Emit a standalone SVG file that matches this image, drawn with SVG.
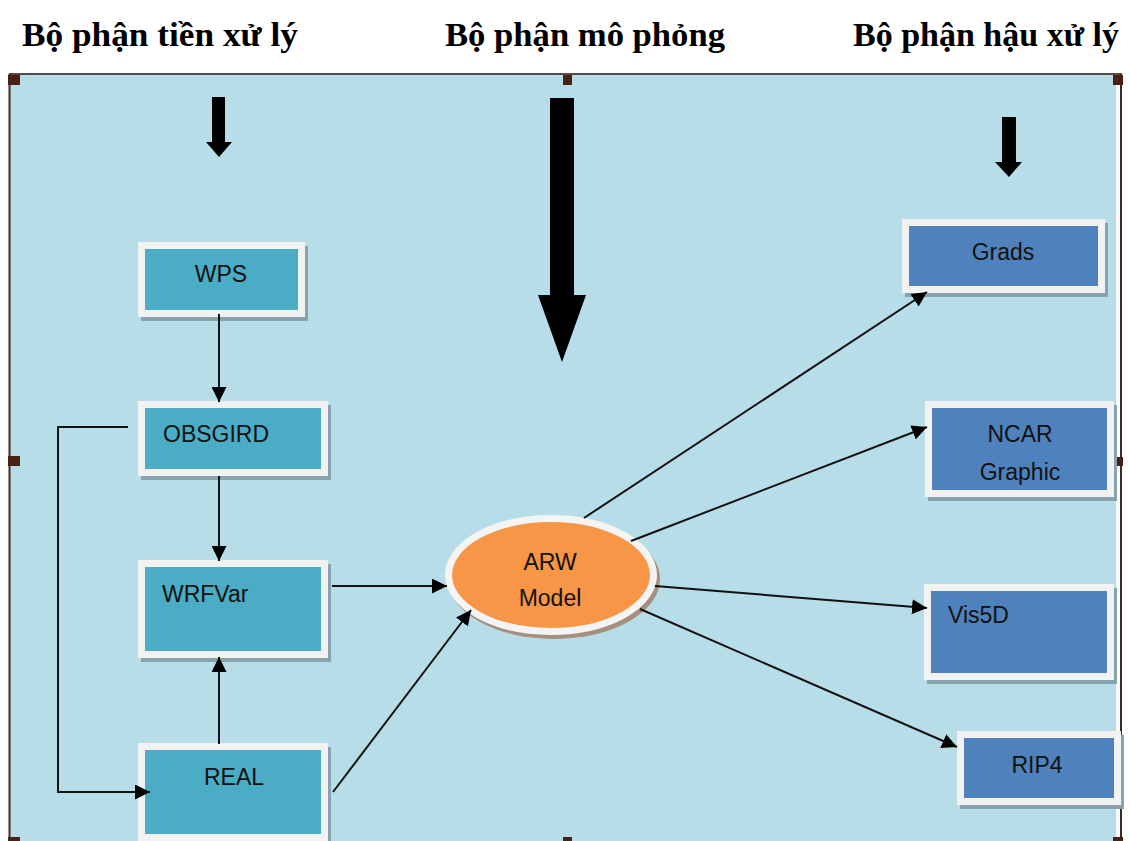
<svg xmlns="http://www.w3.org/2000/svg" width="1130" height="841" viewBox="0 0 1130 841">
<defs>
<style>
.hd{font-family:"Liberation Serif","Times New Roman",serif;font-weight:bold;font-size:34px;fill:#000}
.nt{font-family:"Liberation Sans",Arial,sans-serif;font-size:23px;fill:#111}
.box{stroke:#f2f2f2;stroke-width:7}
.teal{fill:#4bacc6}
.blue{fill:#4f81bd}
.shd{fill:#86a3ae}
.cn{stroke:#111;stroke-width:2;fill:none}
.hdl{fill:#4a1f14}
</style>
<marker id="ah" markerUnits="userSpaceOnUse" markerWidth="15" markerHeight="15" viewBox="0 0 15 15" refX="15" refY="7.5" orient="auto"><path d="M0,0 L15,7.5 L0,15 z" fill="#000"/></marker>
</defs>
<rect width="1130" height="841" fill="#fff"/>
<g id="frame">
<rect x="9" y="74" width="1107" height="767" fill="#b7dde8"/>
<rect x="1116" y="74" width="4" height="767" fill="#fbfbfb"/>
<line x1="9" y1="74" x2="1122" y2="74" stroke="#5a4a46" stroke-width="2"/>
<line x1="9.5" y1="74" x2="9.5" y2="841" stroke="#4a2a20" stroke-width="2"/>
<line x1="1121" y1="74" x2="1121" y2="841" stroke="#3a2a26" stroke-width="2"/>
<rect class="hdl" x="8" y="75" width="12" height="10"/>
<rect class="hdl" x="563" y="75" width="9" height="10"/>
<rect class="hdl" x="1113" y="75" width="10" height="10"/>
<rect class="hdl" x="8" y="456" width="12" height="10"/>
<rect class="hdl" x="1113" y="457" width="10" height="9"/>
<rect class="hdl" x="8" y="837" width="12" height="4"/>
<rect class="hdl" x="563" y="837" width="9" height="4"/>
<rect class="hdl" x="1113" y="837" width="10" height="4"/>
</g>
<g id="headings">
<text class="hd" x="22" y="46" textLength="276" lengthAdjust="spacingAndGlyphs">Bộ phận tiền xử lý</text>
<text class="hd" x="445" y="46" textLength="280" lengthAdjust="spacingAndGlyphs">Bộ phận mô phỏng</text>
<text class="hd" x="853" y="46" textLength="266" lengthAdjust="spacingAndGlyphs">Bộ phận hậu xử lý</text>
</g>
<g id="big-arrows" fill="#000">
<path d="M212,97 H225 V142 H232 L219,157 L206,142 H212 Z"/>
<path d="M550,98 H574 V295 H586 L562,362 L538,295 H550 Z"/>
<path d="M1002,117 H1016 V162 H1022 L1009,177 L995,162 H1002 Z"/>
</g>
<g id="node-wps">
<rect class="shd" x="141" y="246" width="167" height="75"/>
<rect class="box teal" x="141.5" y="245.5" width="160" height="68"/>
<text class="nt" x="221" y="282" text-anchor="middle">WPS</text>
</g>
<g id="node-obsgird">
<rect class="shd" x="141" y="405" width="190" height="75"/>
<rect class="box teal" x="141.5" y="404.5" width="183" height="68"/>
<text class="nt" x="163" y="442">OBSGIRD</text>
</g>
<g id="node-wrfvar">
<rect class="shd" x="141" y="564" width="190" height="98"/>
<rect class="box teal" x="141.5" y="563.5" width="183" height="91"/>
<text class="nt" x="162" y="602">WRFVar</text>
</g>
<g id="node-real">
<rect class="shd" x="141" y="747" width="190" height="98"/>
<rect class="box teal" x="141.5" y="746.5" width="183" height="91"/>
<text class="nt" x="234" y="785" text-anchor="middle">REAL</text>
</g>
<g id="node-arw">
<ellipse cx="554" cy="579" rx="106" ry="60" fill="#a58f7e"/>
<ellipse cx="551" cy="575" rx="102.5" ry="56.5" fill="#f79646" stroke="#f4f4f4" stroke-width="7"/>
<text class="nt" x="550" y="570" text-anchor="middle">ARW</text>
<text class="nt" x="550" y="606" text-anchor="middle">Model</text>
</g>
<g id="node-grads">
<rect class="shd" x="905" y="223" width="203" height="74"/>
<rect class="box blue" x="905.5" y="222.5" width="196" height="67"/>
<text class="nt" x="1003" y="260" text-anchor="middle">Grads</text>
</g>
<g id="node-ncar">
<rect class="shd" x="928" y="405" width="189" height="96"/>
<rect class="box blue" x="928.5" y="404.5" width="182" height="89"/>
<text class="nt" x="1020" y="442" text-anchor="middle">NCAR</text>
<text class="nt" x="1020" y="480" text-anchor="middle">Graphic</text>
</g>
<g id="node-vis5d">
<rect class="shd" x="927" y="588" width="190" height="96"/>
<rect class="box blue" x="927.5" y="587.5" width="183" height="89"/>
<text class="nt" x="948" y="623">Vis5D</text>
</g>
<g id="node-rip4">
<rect class="shd" x="960" y="735" width="164" height="74"/>
<rect class="box blue" x="960.5" y="734.5" width="157" height="67"/>
<text class="nt" x="1037" y="773" text-anchor="middle">RIP4</text>
</g>
<g id="connectors">
<line class="cn" x1="219" y1="314" x2="219" y2="402" marker-end="url(#ah)"/>
<line class="cn" x1="219" y1="476" x2="219" y2="561" marker-end="url(#ah)"/>
<line class="cn" x1="219" y1="744" x2="219" y2="657" marker-end="url(#ah)"/>
<polyline class="cn" stroke-width="1.6" points="128,427 58,427 58,792 150,792" marker-end="url(#ah)"/>
<line class="cn" x1="332" y1="586" x2="447" y2="586" marker-end="url(#ah)"/>
<line class="cn" x1="333" y1="792" x2="471" y2="610" marker-end="url(#ah)"/>
<line class="cn" x1="584" y1="518" x2="927" y2="292" marker-end="url(#ah)"/>
<line class="cn" x1="631" y1="541" x2="927" y2="427" marker-end="url(#ah)"/>
<line class="cn" x1="655" y1="586" x2="927" y2="608" marker-end="url(#ah)"/>
<line class="cn" x1="640" y1="609" x2="957" y2="747" marker-end="url(#ah)"/>
</g>
</svg>
